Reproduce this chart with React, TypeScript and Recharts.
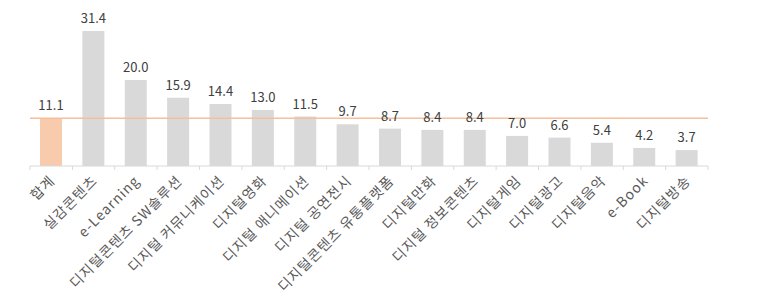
import { BarChart, Bar, XAxis, YAxis, Cell, LabelList, ReferenceLine } from "recharts";

const categories = [
  "합계",
  "실감콘텐츠",
  "e-Learning",
  "디지털콘텐츠 SW솔루션",
  "디지털 커뮤니케이션",
  "디지털영화",
  "디지털 애니메이션",
  "디지털 공연전시",
  "디지털콘텐츠 유통플랫폼",
  "디지털만화",
  "디지털 정보콘텐츠",
  "디지털게임",
  "디지털광고",
  "디지털음악",
  "e-Book",
  "디지털방송",
];
const values = [11.1, 31.4, 20.0, 15.9, 14.4, 13.0, 11.5, 9.7, 8.7, 8.4, 8.4, 7.0, 6.6, 5.4, 4.2, 3.7];
const average = 11.1;

const data = categories.map((name, i) => ({ name, value: values[i] }));

const FONT = "'Malgun Gothic', 'Noto Sans CJK KR', sans-serif";
const BAND = 678 / 16;

function Tick(props: any) {
  const { x, y, payload, index } = props;
  const last = index === categories.length - 1;
  const tx = x + 2;
  const ty = y + 5;
  return (
    <g>
      <line x1={x - BAND / 2} y1={y - 8} x2={x - BAND / 2} y2={y - 4} stroke="#d9d9d9" />
      {last && <line x1={x + BAND / 2} y1={y - 8} x2={x + BAND / 2} y2={y - 4} stroke="#d9d9d9" />}
      <text
        x={tx}
        y={ty}
        transform={`rotate(-45, ${tx}, ${ty})`}
        textAnchor="end"
        dominantBaseline="middle"
        fontSize={14}
        letterSpacing={1}
        fill="#595959"
        fontFamily={FONT}
      >
        {payload.value}
      </text>
    </g>
  );
}

export default function App() {
  return (
    <div style={{ position: "absolute", left: 0, top: 0, background: "#fff" }}>
      <BarChart
        width={760}
        height={303}
        data={data}
        margin={{ top: 15.5, right: 52, left: 30, bottom: 0 }}
      >
        <YAxis hide domain={[0, 35]} />
        <XAxis
          dataKey="name"
          interval={0}
          height={137}
          axisLine={{ stroke: "#d9d9d9" }}
          tickLine={false}
          tick={<Tick />}
        />
        <Bar dataKey="value" barSize={22} isAnimationActive={false}>
          {data.map((d, i) => (
            <Cell key={d.name} fill={i === 0 ? "#f8cbad" : "#d9d9d9"} />
          ))}
          <LabelList
            dataKey="value"
            position="top"
            offset={8}
            formatter={(v: any) => Number(v).toFixed(1)}
            style={{ fontSize: 13, fill: "#404040", fontFamily: FONT }}
          />
        </Bar>
        <ReferenceLine y={average} stroke="#f6bf9a" strokeWidth={1.5} ifOverflow="extendDomain" />
      </BarChart>
    </div>
  );
}
